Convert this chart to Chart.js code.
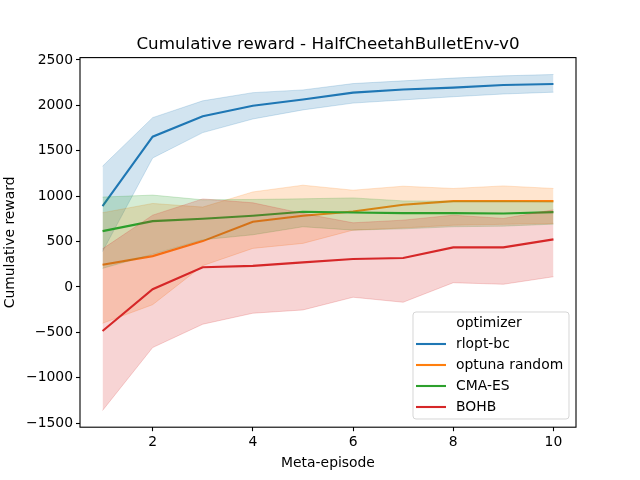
<!DOCTYPE html>
<html>
<head>
<meta charset="utf-8">
<script src="https://cdn.jsdelivr.net/npm/chart.js@4/dist/chart.umd.min.js"></script>
<style>
  body { margin: 0; background: #fff; }
  canvas { display: block; }
</style>
</head>
<body>
<canvas id="chart" width="640" height="480"></canvas>
<script>
// データ
const episodes = [1, 2, 3, 4, 5, 6, 7, 8, 9, 10];
const xTicks = [2, 4, 6, 8, 10];
const yTicks = [-1500, -1000, -500, 0, 500, 1000, 1500, 2000, 2500];

const rloptMean = [890, 1655, 1880, 1995, 2065, 2140, 2175, 2195, 2225, 2235];
const rloptLow  = [390, 1420, 1700, 1850, 1950, 2025, 2060, 2095, 2125, 2145];
const rloptHigh = [1330, 1865, 2050, 2140, 2170, 2240, 2270, 2300, 2325, 2340];

const optunaMean = [245, 340, 505, 718, 785, 832, 905, 945, 945, 945];
const optunaLow  = [-400, -195, 235, 425, 480, 626, 650, 680, 690, 700];
const optunaHigh = [818, 920, 880, 1047, 1121, 1066, 1110, 1085, 1113, 1085];

const cmaMean = [615, 725, 751, 784, 828, 821, 813, 813, 810, 824];
const cmaLow  = [205, 360, 520, 575, 663, 626, 640, 663, 670, 692];
const cmaHigh = [990, 1012, 960, 964, 971, 981, 948, 945, 945, 937];

const bohbMean = [-485, -25, 217, 232, 271, 308, 319, 436, 436, 524];
const bohbLow  = [-1360, -667, -410, -289, -253, -113, -168, 47, 30, 113];
const bohbHigh = [420, 791, 970, 927, 810, 707, 736, 791, 755, 850];

const seriesNames = ['rlopt-bc', 'optuna random', 'CMA-ES', 'BOHB'];
const seriesColors = ['31, 119, 180', '255, 127, 14', '44, 160, 44', '214, 39, 40'];

const FONT = "'DejaVu Sans', sans-serif";

function toPoints(ys) {
    return episodes.map((x, i) => ({ x: x, y: ys[i] }));
}

// 帯 (下限・上限) と平均線を作る
function buildSeries(idx, mean, low, high, order) {
    const c = seriesColors[idx];
    return [
        {
            label: seriesNames[idx] + ' low',
            data: toPoints(low),
            borderColor: `rgba(${c}, 0.2)`,
            borderWidth: 1,
            pointRadius: 0,
            fill: false,
            order: order + 1
        },
        {
            label: seriesNames[idx] + ' high',
            data: toPoints(high),
            borderColor: `rgba(${c}, 0.2)`,
            backgroundColor: `rgba(${c}, 0.2)`,
            borderWidth: 1,
            pointRadius: 0,
            fill: '-1',
            order: order + 1
        },
        {
            label: seriesNames[idx],
            data: toPoints(mean),
            borderColor: `rgb(${c})`,
            borderWidth: 2.1,
            pointRadius: 0,
            fill: false,
            order: order
        }
    ];
}

const datasets = [].concat(
    buildSeries(0, rloptMean, rloptLow, rloptHigh, 80),
    buildSeries(1, optunaMean, optunaLow, optunaHigh, 60),
    buildSeries(2, cmaMean, cmaLow, cmaHigh, 40),
    buildSeries(3, bohbMean, bohbLow, bohbHigh, 20)
);

// 枠線
const framePlugin = {
    id: 'frame',
    afterDatasetsDraw(chart) {
        const a = chart.chartArea;
        const ctx = chart.ctx;
        ctx.save();
        ctx.strokeStyle = '#000';
        ctx.lineWidth = 1.1;
        ctx.strokeRect(a.left, a.top, a.right - a.left, a.bottom - a.top);
        ctx.restore();
    }
};

// タイトルと凡例
const overlayPlugin = {
    id: 'overlay',
    afterDraw(chart) {
        const ctx = chart.ctx;
        const a = chart.chartArea;
        ctx.save();
        ctx.fillStyle = '#000';
        ctx.font = `16.7px ${FONT}`;
        ctx.textAlign = 'center';
        ctx.textBaseline = 'alphabetic';
        ctx.fillText('Cumulative reward - HalfCheetahBulletEnv-v0', (a.left + a.right) / 2, 49);

        // 凡例の箱
        const bx = 413, by = 312, bw = 156, bh = 107, r = 3;
        ctx.beginPath();
        ctx.moveTo(bx + r, by);
        ctx.arcTo(bx + bw, by, bx + bw, by + bh, r);
        ctx.arcTo(bx + bw, by + bh, bx, by + bh, r);
        ctx.arcTo(bx, by + bh, bx, by, r);
        ctx.arcTo(bx, by, bx + bw, by, r);
        ctx.closePath();
        ctx.fillStyle = 'rgba(255,255,255,0.8)';
        ctx.fill();
        ctx.strokeStyle = 'rgba(204,204,204,0.8)';
        ctx.lineWidth = 1;
        ctx.stroke();

        ctx.font = `13.9px ${FONT}`;
        ctx.fillStyle = '#000';
        ctx.textAlign = 'center';
        ctx.textBaseline = 'middle';
        ctx.fillText('optimizer', 489, 323);

        const rows = [344, 365, 386, 407];
        seriesNames.forEach((name, i) => {
            ctx.strokeStyle = `rgb(${seriesColors[i]})`;
            ctx.lineWidth = 2.1;
            ctx.beginPath();
            ctx.moveTo(416, rows[i]);
            ctx.lineTo(446, rows[i]);
            ctx.stroke();
            ctx.textAlign = 'left';
            ctx.fillText(name, 456, rows[i]);
        });
        ctx.restore();
    }
};

const ctx = document.getElementById('chart').getContext('2d');
const chart = new Chart(ctx, {
    type: 'line',
    data: { datasets: datasets },
    options: {
        responsive: false,
        animation: false,
        devicePixelRatio: 1,
        layout: { padding: { top: 57.6, right: 64, left: 2, bottom: 8 } },
        plugins: {
            legend: { display: false },
            title: { display: false },
            tooltip: { enabled: false },
            filler: { propagate: false }
        },
        elements: { line: { tension: 0 } },
        scales: {
            x: {
                type: 'linear',
                min: 0.55,
                max: 10.45,
                afterFit(scale) { scale.height = 44.8; },
                afterBuildTicks(scale) { scale.ticks = xTicks.map(v => ({ value: v })); },
                border: { display: false },
                grid: {
                    drawOnChartArea: false,
                    drawTicks: true,
                    tickLength: 4,
                    color: '#000',
                    tickWidth: 1.1
                },
                ticks: {
                    color: '#000',
                    padding: 3,
                    maxRotation: 0,
                    font: { family: FONT, size: 13.9 },
                    callback: v => String(v)
                },
                title: {
                    display: true,
                    text: 'Meta-episode',
                    color: '#000',
                    font: { family: FONT, size: 13.9 },
                    padding: { top: 2, bottom: 0 }
                }
            },
            y: {
                type: 'linear',
                min: -1544,
                max: 2526,
                afterFit(scale) { scale.width = 78; },
                afterBuildTicks(scale) { scale.ticks = yTicks.map(v => ({ value: v })); },
                border: { display: false },
                grid: {
                    drawOnChartArea: false,
                    drawTicks: true,
                    tickLength: 4,
                    color: '#000',
                    tickWidth: 1.1
                },
                ticks: {
                    color: '#000',
                    padding: 3,
                    font: { family: FONT, size: 13.9 },
                    callback: v => String(v).replace('-', '\u2212')
                },
                title: {
                    display: true,
                    text: 'Cumulative reward',
                    color: '#000',
                    font: { family: FONT, size: 13.9 },
                    padding: { top: 0, bottom: 0 }
                }
            }
        }
    },
    plugins: [framePlugin, overlayPlugin]
});
</script>
</body>
</html>
